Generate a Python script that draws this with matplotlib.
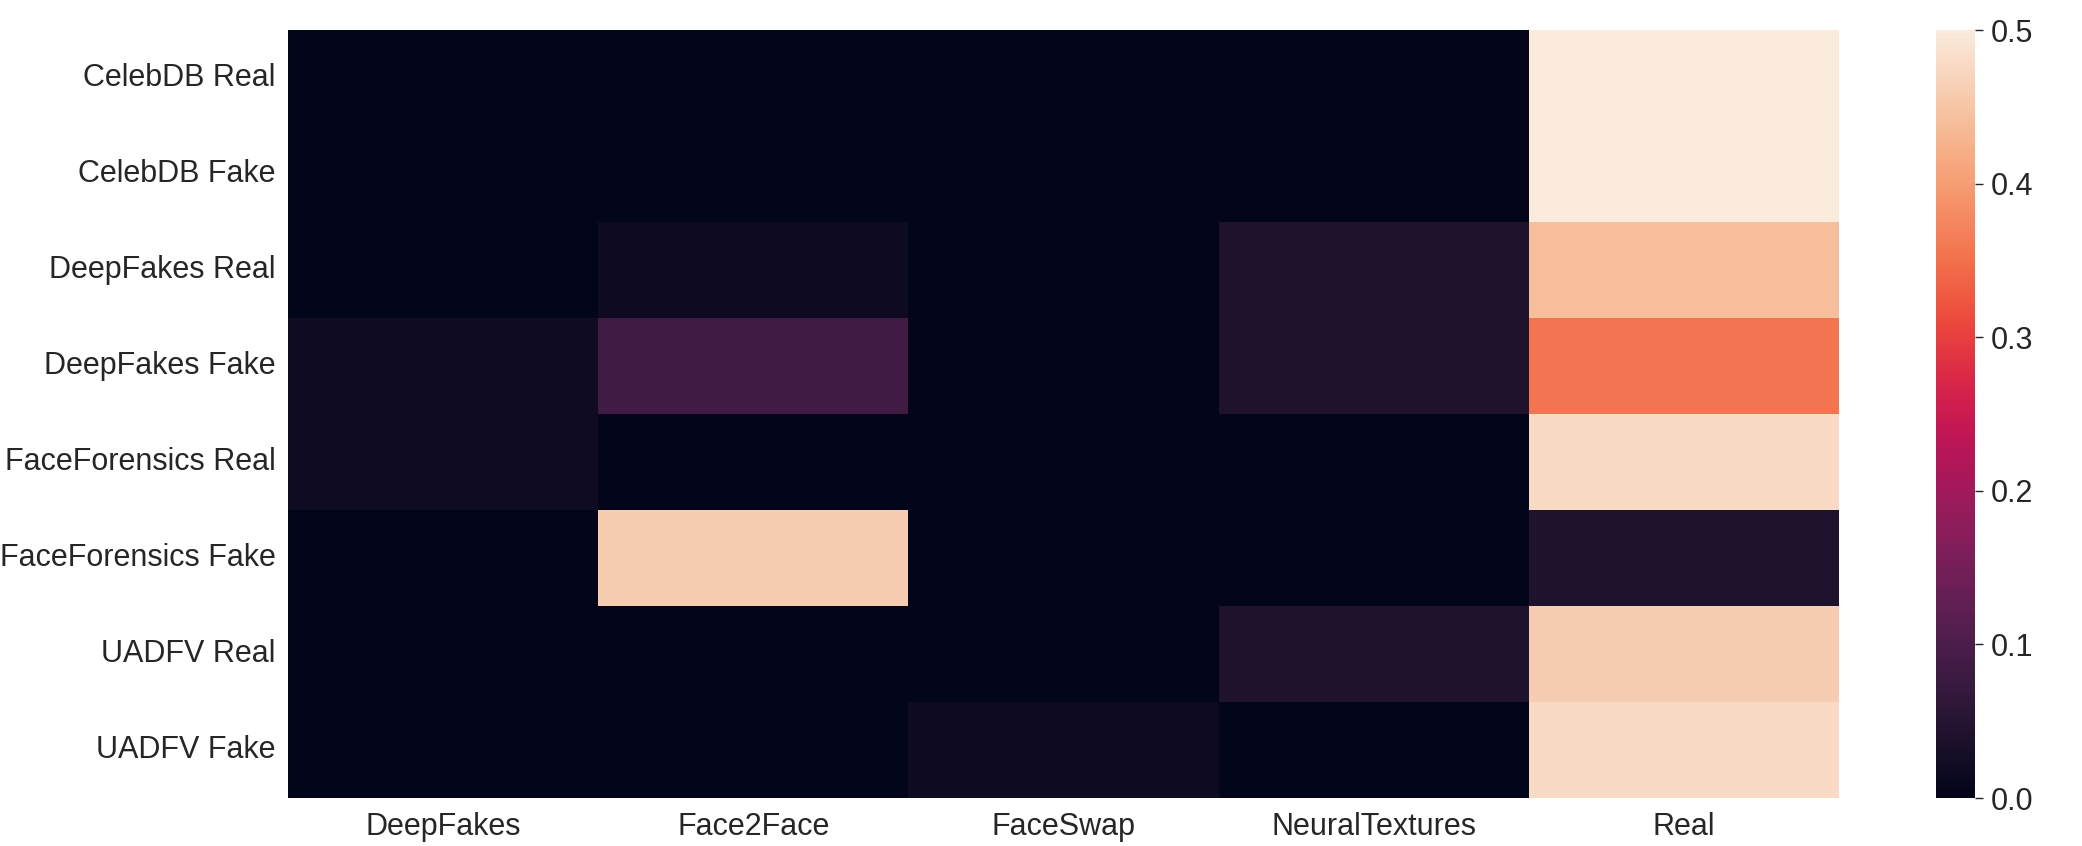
import matplotlib
matplotlib.use('Agg')
import matplotlib.pyplot as plt
import seaborn as sns
import numpy as np
import pandas as pd

rows = ['CelebDB Real', 'CelebDB Fake', 'DeepFakes Real', 'DeepFakes Fake',
        'FaceForensics Real', 'FaceForensics Fake', 'UADFV Real', 'UADFV Fake']
cols = ['DeepFakes', 'Face2Face', 'FaceSwap', 'NeuralTextures', 'Real']

deepfakes = [0.0, 0.0, 0.0, 0.018, 0.019, 0.001, 0.0, 0.0]
face2face = [0.0, 0.0, 0.016, 0.085, 0.0, 0.46, 0.0, 0.0]
faceswap = [0.0, 0.0, 0.0, 0.0, 0.0, 0.0, 0.0, 0.016]
neuraltextures = [0.0, 0.0, 0.04, 0.04, 0.0, 0.0, 0.04, 0.0]
real = [0.5, 0.5, 0.44, 0.355, 0.478, 0.04, 0.46, 0.478]

df = pd.DataFrame({'DeepFakes': deepfakes, 'Face2Face': face2face,
                   'FaceSwap': faceswap, 'NeuralTextures': neuraltextures,
                   'Real': real}, index=rows)[cols]

sns.set_style('white')
plt.rcParams['font.family'] = ['Liberation Sans', 'DejaVu Sans']
plt.rcParams['text.color'] = '#262626'
plt.rcParams['xtick.color'] = '#262626'
plt.rcParams['ytick.color'] = '#262626'

fig = plt.figure(figsize=(20.82, 8.46), dpi=100)
ax = fig.add_axes([288 / 2082, 48 / 846, 1551 / 2082, 768 / 846])
cax = fig.add_axes([1936 / 2082, 48 / 846, 39 / 2082, 768 / 846])

sns.heatmap(df, ax=ax, cbar_ax=cax, cmap='rocket', vmin=0, vmax=0.5)

ax.tick_params(axis='both', length=0, labelsize=22)
ax.tick_params(axis='y', pad=9, rotation=0)
ax.tick_params(axis='x', pad=10, rotation=0)
cax.tick_params(length=6, width=1.0, labelsize=22, pad=5, color='#262626')
cax.set_yticks([0.0, 0.1, 0.2, 0.3, 0.4, 0.5])
for s in cax.spines.values():
    s.set_visible(False)

fig.savefig('out.png', dpi=100)
